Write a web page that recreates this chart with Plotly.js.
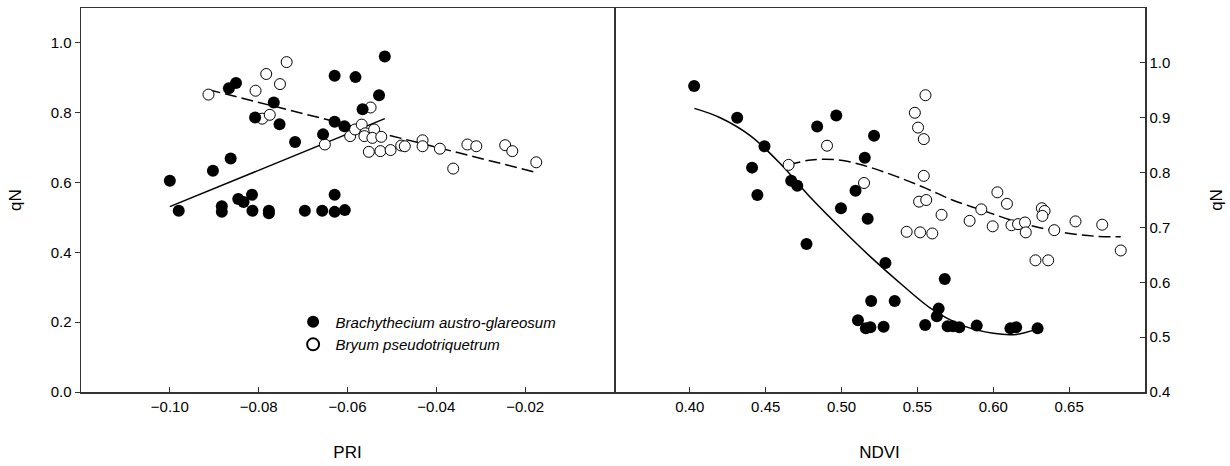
<!DOCTYPE html>
<html>
<head>
<meta charset="utf-8">
<script src="https://cdn.plot.ly/plotly-3.0.1.min.js"></script>
<style>html,body{margin:0;padding:0;background:#fff;}#chart{width:1230px;height:466px;}</style>
</head>
<body>
<div id="chart"></div>
<script>
// ---- Left panel (PRI) data ----
const priBrachX = [-0.100,-0.098,-0.0903,-0.0883,-0.0883,-0.0863,-0.0867,-0.0851,-0.0846,-0.0834,-0.0815,-0.0814,-0.0808,-0.0766,-0.0753,-0.0777,-0.0777,-0.0718,-0.0696,-0.0657,-0.0655,-0.0629,-0.0629,-0.0629,-0.0629,-0.0606,-0.0607,-0.0582,-0.0566,-0.0529,-0.0516];
const priBrachY = [0.605,0.519,0.634,0.532,0.516,0.669,0.870,0.885,0.553,0.544,0.565,0.519,0.786,0.829,0.767,0.519,0.512,0.716,0.519,0.519,0.738,0.774,0.906,0.565,0.516,0.521,0.761,0.902,0.810,0.850,0.961];
const priBryumX = [-0.0913,-0.0807,-0.0783,-0.0752,-0.0737,-0.0792,-0.0775,-0.0651,-0.0594,-0.0583,-0.0568,-0.0560,-0.0562,-0.0548,-0.0540,-0.0544,-0.0524,-0.0552,-0.0526,-0.0503,-0.0479,-0.0471,-0.0431,-0.0431,-0.0392,-0.0362,-0.0330,-0.0310,-0.0245,-0.0229,-0.0175];
const priBryumY = [0.852,0.863,0.911,0.882,0.945,0.783,0.794,0.709,0.733,0.752,0.766,0.741,0.733,0.815,0.752,0.728,0.731,0.688,0.690,0.693,0.706,0.704,0.721,0.704,0.697,0.640,0.709,0.704,0.707,0.690,0.658];
// fitted lines (end points)
const priBrachFitX = [-0.100,-0.0516];
const priBrachFitY = [0.531,0.783];
const priBryumFitX = [-0.0913,-0.0175];
const priBryumFitY = [0.866,0.629];

// ---- Right panel (NDVI) data ----
const ndviBrachX = [0.4028,0.4312,0.4492,0.4410,0.4445,0.4668,0.4708,0.4839,0.4965,0.5214,0.5153,0.5092,0.4996,0.5172,0.4769,0.5289,0.5680,0.5195,0.5350,0.5108,0.5160,0.5190,0.5277,0.5551,0.5640,0.5628,0.5699,0.5734,0.5776,0.5891,0.6113,0.6151,0.6292];
const ndviBrachY = [0.958,0.900,0.848,0.809,0.759,0.785,0.776,0.884,0.904,0.867,0.827,0.767,0.735,0.716,0.670,0.635,0.606,0.566,0.566,0.531,0.516,0.518,0.519,0.522,0.552,0.538,0.520,0.520,0.518,0.521,0.516,0.518,0.516];
const ndviBryumX = [0.4651,0.4904,0.5148,0.5483,0.5504,0.5542,0.5553,0.5542,0.5511,0.5558,0.5659,0.5844,0.5921,0.6027,0.6090,0.5996,0.6120,0.6163,0.6209,0.6320,0.6338,0.6324,0.6402,0.6542,0.6718,0.5429,0.5518,0.5598,0.6214,0.6278,0.6362,0.6840];
const ndviBryumY = [0.814,0.849,0.781,0.909,0.882,0.861,0.941,0.794,0.747,0.750,0.723,0.712,0.733,0.764,0.743,0.702,0.704,0.706,0.709,0.735,0.730,0.721,0.695,0.711,0.705,0.692,0.691,0.689,0.691,0.640,0.640,0.658];
// fitted curves
const ndviBrachFitX = [0.403,0.42,0.44,0.46,0.48,0.50,0.52,0.54,0.56,0.58,0.60,0.615,0.63];
const ndviBrachFitY = [0.917,0.900,0.867,0.815,0.753,0.697,0.644,0.595,0.550,0.521,0.507,0.505,0.516];
const ndviBryumFitX = [0.465,0.48,0.498,0.517,0.536,0.555,0.573,0.592,0.611,0.630,0.648,0.667,0.684];
const ndviBryumFitY = [0.814,0.823,0.823,0.811,0.793,0.772,0.750,0.732,0.714,0.700,0.690,0.684,0.683];

const xTicksPRI = [-0.10,-0.08,-0.06,-0.04,-0.02];
const xTicksNDVI = [0.40,0.45,0.50,0.55,0.60,0.65];
const yTicksLeft = [0.0,0.2,0.4,0.6,0.8,1.0];
const yTicksRight = [0.4,0.5,0.6,0.7,0.8,0.9,1.0];

const nameBrach = '<i>Brachythecium austro-glareosum</i>';
const nameBryum = '<i>Bryum pseudotriquetrum</i>';

const filled = {symbol:'circle', size:12, color:'#000', line:{width:0}};
const open2 = {symbol:'circle', size:11, color:'#fff', line:{width:1, color:'#000'}};

const traces = [
  {x:priBrachFitX, y:priBrachFitY, xaxis:'x', yaxis:'y', mode:'lines', line:{color:'#000', width:1.5}, showlegend:false, hoverinfo:'skip'},
  {x:priBryumFitX, y:priBryumFitY, xaxis:'x', yaxis:'y', mode:'lines', line:{color:'#000', width:1.5, dash:'12px,5px'}, showlegend:false, hoverinfo:'skip'},
  {x:ndviBrachFitX, y:ndviBrachFitY, xaxis:'x2', yaxis:'y2', mode:'lines', line:{color:'#000', width:1.5, shape:'spline'}, showlegend:false, hoverinfo:'skip'},
  {x:ndviBryumFitX, y:ndviBryumFitY, xaxis:'x2', yaxis:'y2', mode:'lines', line:{color:'#000', width:1.5, dash:'12px,5px', shape:'spline'}, showlegend:false, hoverinfo:'skip'},
  {x:priBryumX, y:priBryumY, xaxis:'x', yaxis:'y', mode:'markers', marker:open2, name:nameBryum, legendgroup:'b', showlegend:false},
  {x:priBrachX, y:priBrachY, xaxis:'x', yaxis:'y', mode:'markers', marker:filled, name:nameBrach, legendgroup:'a', showlegend:true},
  {x:ndviBryumX, y:ndviBryumY, xaxis:'x2', yaxis:'y2', mode:'markers', marker:open2, name:nameBryum, legendgroup:'b', showlegend:true},
  {x:ndviBrachX, y:ndviBrachY, xaxis:'x2', yaxis:'y2', mode:'markers', marker:filled, name:nameBrach, legendgroup:'a', showlegend:false}
];

const axFont = {family:'Liberation Sans, Arial, sans-serif', size:15, color:'#000'};
const titleFont = {family:'Liberation Sans, Arial, sans-serif', size:17, color:'#000'};
const split = 533/1064;

const layout = {
  width:1230, height:466,
  margin:{l:81, r:85, t:8, b:74},
  paper_bgcolor:'#fff', plot_bgcolor:'#fff',
  font:axFont,
  showlegend:true,
  legend:{x:0.197, y:0.225, xanchor:'left', yanchor:'top', bgcolor:'rgba(0,0,0,0)', traceorder:'normal',
          font:{family:'Liberation Sans, Arial, sans-serif', size:15, color:'#000'}, itemsizing:'constant', itemwidth:35, tracegroupgap:0},
  xaxis:{domain:[0, split], range:[-0.12, 0.0], tickvals:xTicksPRI, tickformat:'.2f', ticks:'inside', ticklen:5, tickcolor:'#333',
         showline:true, mirror:true, linecolor:'#333', linewidth:1.5, showgrid:false, zeroline:false, anchor:'y',
         tickfont:axFont, title:{text:'PRI', font:titleFont, standoff:32}},
  yaxis:{domain:[0,1], range:[0, 1.1], tickvals:yTicksLeft, tickformat:'.1f', ticks:'outside', ticklen:5, tickcolor:'#333',
         showline:true, mirror:true, linecolor:'#333', linewidth:1.5, showgrid:false, zeroline:false, anchor:'x',
         tickfont:axFont, title:{text:'qN', font:titleFont, standoff:24}},
  xaxis2:{domain:[split, 1], range:[0.35, 0.70], tickvals:xTicksNDVI, tickformat:'.2f', ticks:'inside', ticklen:5, tickcolor:'#333',
         showline:true, mirror:true, linecolor:'#333', linewidth:1.5, showgrid:false, zeroline:false, anchor:'y2',
         tickfont:axFont, title:{text:'NDVI', font:titleFont, standoff:32}},
  yaxis2:{domain:[0,1], range:[0.4, 1.1], tickvals:yTicksRight, tickformat:'.1f', ticks:'inside', ticklen:5, tickcolor:'#333',
         showline:true, mirror:false, linecolor:'#333', linewidth:1.5, showgrid:false, zeroline:false, anchor:'x2', side:'right',
         tickfont:axFont, title:{text:'qN', font:titleFont, standoff:40}}
};

Plotly.newPlot('chart', traces, layout, {displayModeBar:false, staticPlot:true});
</script>
</body>
</html>
